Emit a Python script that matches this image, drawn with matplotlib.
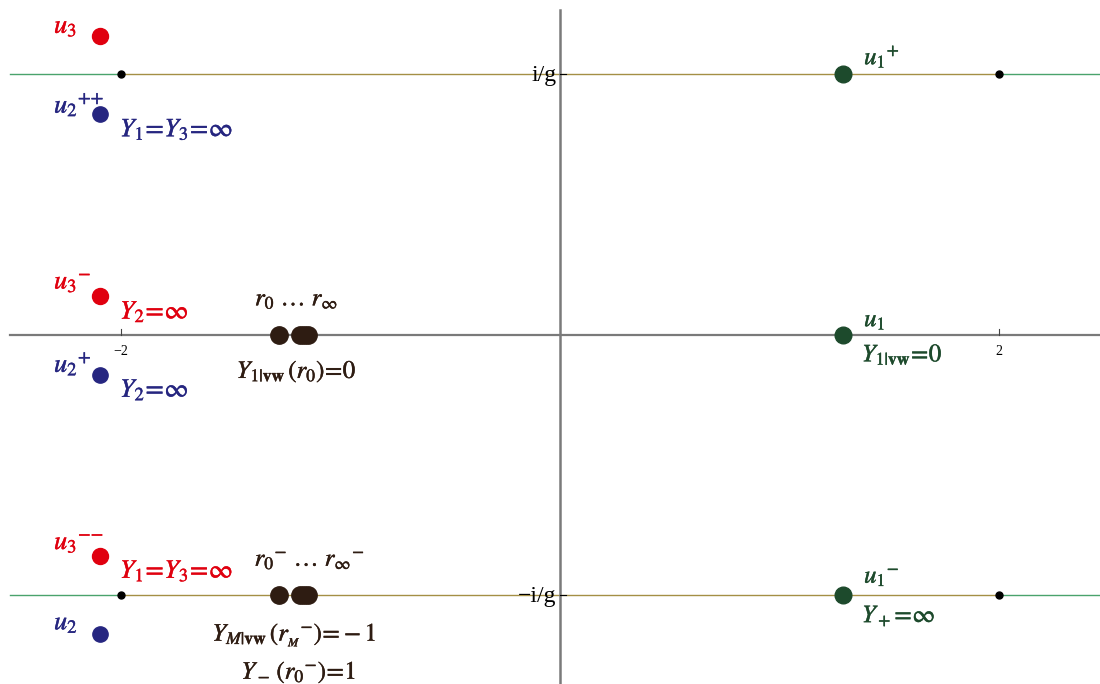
import numpy as np
import matplotlib.pyplot as plt
import matplotlib.patheffects as pe

plt.rcParams['mathtext.fontset'] = 'stix'
plt.rcParams['font.family'] = ['Liberation Serif', 'DejaVu Serif']

# imaginary parts in units of i/g
levels = [1.0, 0.0, -1.0]
branch_x = [-2.0, 2.0]

# roots (real part, imaginary part)
u3_x = [-2.096, -2.096, -2.096]
u3_y = [1.148, 0.150, -0.848]
u2_x = [-2.096, -2.096, -2.096]
u2_y = [0.848, -0.154, -1.148]
u1_x = [1.289, 1.289, 1.289]
u1_y = [1.0, 0.0, -1.0]
r_x = [-1.28, -1.185, -1.165, -1.15]
r_rows = [0.0, -1.0]

RED = '#e0000f'
BLUE = '#262680'
GREEN = '#1d4a2c'
BROWN = '#2e1c12'
LINE_GREEN = '#4aa36c'
LINE_OLIVE = '#a48f45'
AXIS = '#7a7a7a'

fig = plt.figure(figsize=(11, 6.84), dpi=100)
ax = fig.add_axes([0, 0, 1, 1])
ax.set_xlim(-2.551, 2.460)
ax.set_ylim(-1.340, 1.286)
ax.axis('off')

x_left, x_right = -2.506, 2.460

# horizontal lines at +-i/g: green outside the cut, olive inside
for y in [1.0, -1.0]:
    ax.plot([x_left, branch_x[0]], [y, y], color=LINE_GREEN, lw=1.0, zorder=1)
    ax.plot(branch_x, [y, y], color=LINE_OLIVE, lw=1.0, zorder=1)
    ax.plot([branch_x[1], x_right], [y, y], color=LINE_GREEN, lw=1.0, zorder=1)
    ax.plot(branch_x, [y, y], 'o', color='black', ms=5, zorder=3)

# axes
ax.plot([x_left, x_right], [0, 0], color=AXIS, lw=1.6, zorder=1)
ax.plot([0, 0], [-1.340, 1.248], color=AXIS, lw=1.8, zorder=1)

# ticks
for bx, lab in zip(branch_x, ['\u22122', '2']):
    ax.plot([bx, bx], [0, 0.023], color='#444444', lw=0.8, zorder=1)
    ax.text(bx, -0.04, lab, ha='center', va='top', fontsize=10)
for y, lab in zip([1.0, -1.0], ['i/g', '\u2212i/g']):
    ax.plot([0, 0.027], [y, y], color='black', lw=0.8, zorder=2)
    ax.text(-0.016, y - 0.005, lab, ha='right', va='center', fontsize=17)

# roots
ax.plot(u3_x, u3_y, 'o', color=RED, ms=11.5, zorder=4)
ax.plot(u2_x, u2_y, 'o', color=BLUE, ms=11, zorder=4)
ax.plot(u1_x, u1_y, 'o', color=GREEN, ms=12, zorder=4)
for y in r_rows:
    ax.plot(r_x, [y] * len(r_x), 'o', color=BROWN, ms=12.5, zorder=4)


def label(x, y, s, color, size, ha='left'):
    # slightly heavier strokes for the math labels
    t = ax.text(x, y, s, color=color, fontsize=size, ha=ha, va='center', zorder=5)
    t.set_path_effects([pe.withStroke(linewidth=0.3, foreground=color)])
    return t


fs = 19
u_left = -2.305
# left column labels
label(u_left, 1.18, r'$u_3$', RED, fs)
label(u_left, 0.885, r'${u_2}^{{+}{+}}$', BLUE, fs)
label(-2.005, 0.79, r'$Y_1\!=\!Y_3\!=\!\infty$', BLUE, fs)
label(u_left, 0.20, r'${u_3}^{-}$', RED, fs)
label(-2.005, 0.09, r'$Y_2\!=\!\infty$', RED, fs)
label(u_left, -0.11, r'${u_2}^{+}$', BLUE, fs)
label(-2.005, -0.21, r'$Y_2\!=\!\infty$', BLUE, fs)
label(u_left, -0.80, r'${u_3}^{{-}{-}}$', RED, fs)
label(-2.005, -0.905, r'$Y_1\!=\!Y_3\!=\!\infty$', RED, fs)
label(u_left, -1.11, r'$u_2$', BLUE, fs)

# Bethe roots r
label(-1.20, 0.135, r'$r_0\ \ldots\ r_\infty$', BROWN, fs - 1, 'center')
label(-1.20, -0.14, r'$Y_{1|\mathbf{vw}}\,(r_0)\!=\!0$', BROWN, fs - 1, 'center')
label(-1.14, -0.865, r'${r_0}^{-}\ \ldots\ {r_\infty}^{-}$', BROWN, fs - 1, 'center')
label(-1.21, -1.15, r'$Y_{M|\mathbf{vw}}\,({r_{_M}}^{-})\!=\!-1$', BROWN, fs - 1, 'center')
label(-1.19, -1.295, r'$Y_-\,({r_0}^{-})\!=\!1$', BROWN, fs - 1, 'center')

# right column labels
label(1.385, 1.07, r'${u_1}^{+}$', GREEN, fs - 1)
label(1.385, 0.055, r'$u_1$', GREEN, fs - 1)
label(1.375, -0.075, r'$Y_{1|\mathbf{vw}}\!=\!0$', GREEN, fs - 1)
label(1.385, -0.93, r'${u_1}^{-}$', GREEN, fs - 1)
label(1.375, -1.08, r'$Y_+\!=\!\infty$', GREEN, fs - 1)

fig.savefig('out.png', dpi=100, facecolor='white')
